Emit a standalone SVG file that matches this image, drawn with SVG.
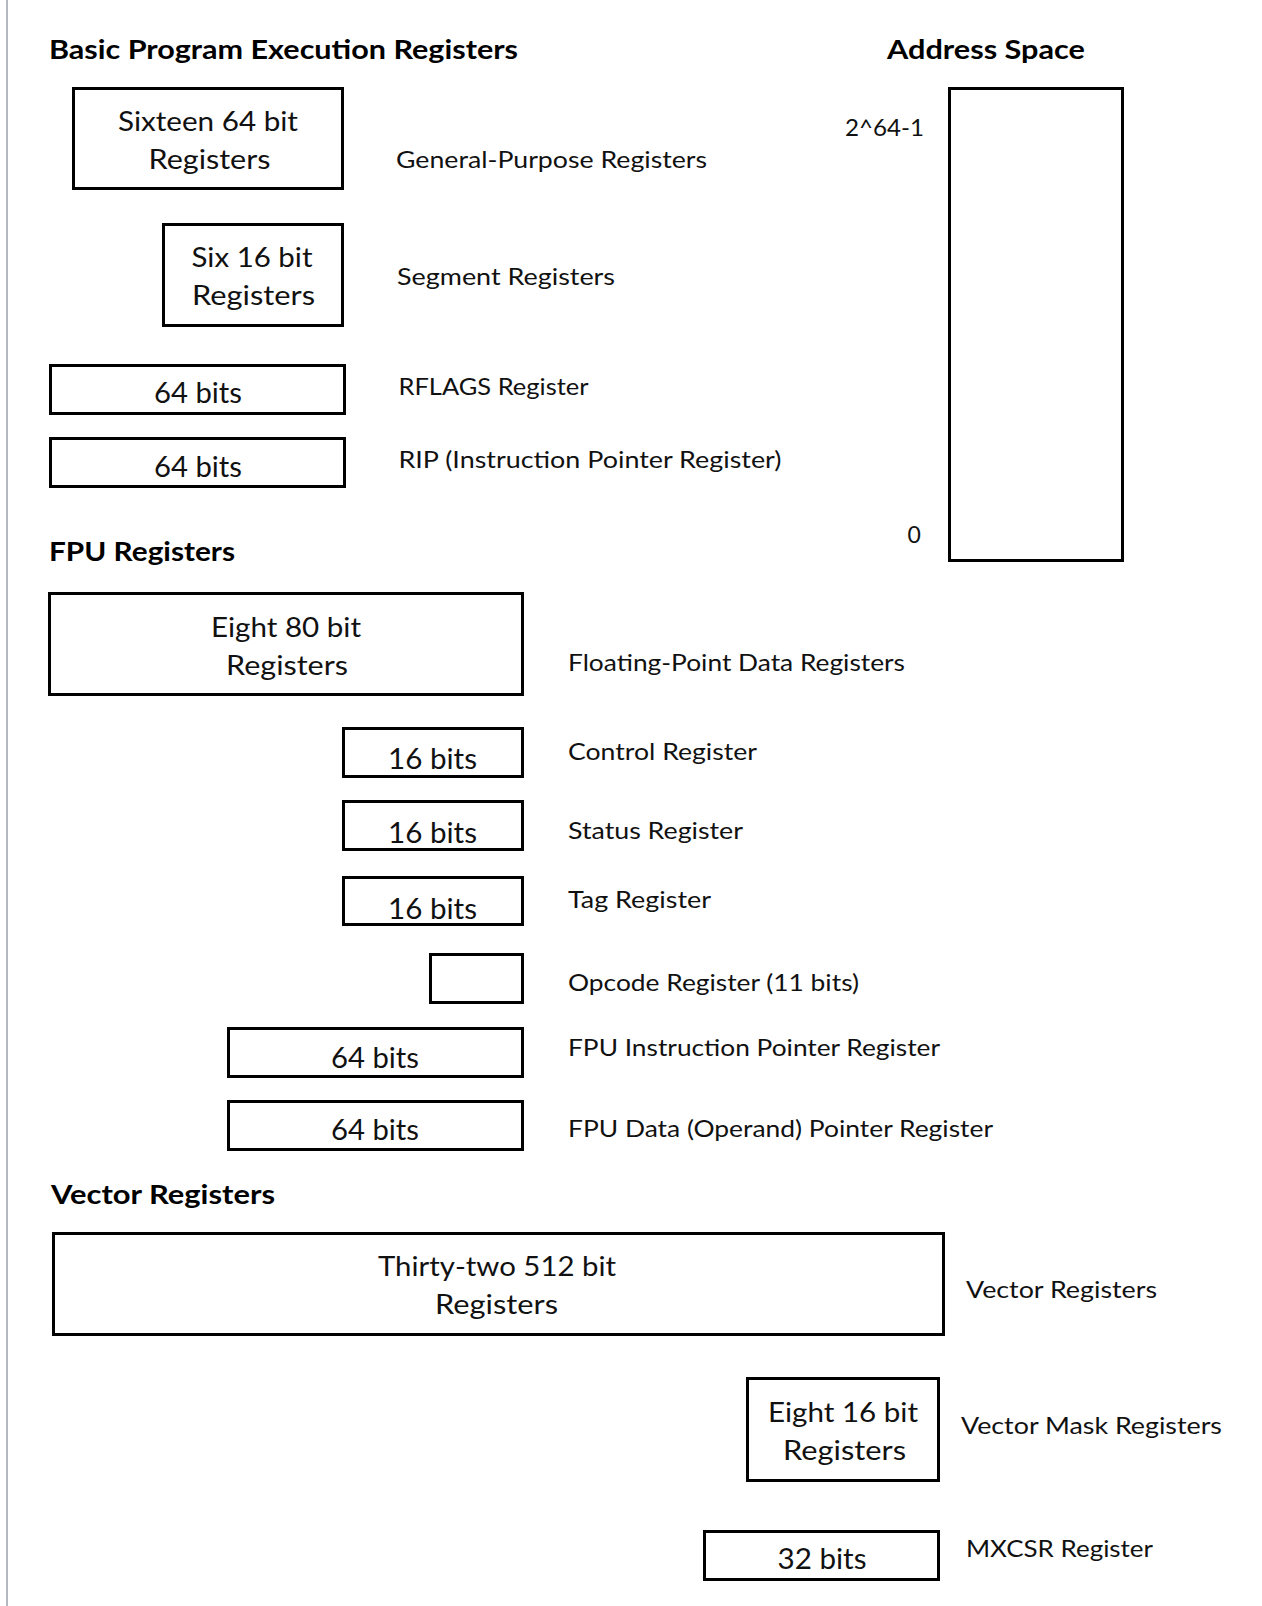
<svg xmlns="http://www.w3.org/2000/svg" width="1262" height="1606" viewBox="0 0 1262 1606">
<style>
.box{fill:#fff;stroke:#000;stroke-width:3}
.t{font-family:Lato,"Liberation Sans",sans-serif;fill:#111}
.h{font-weight:bold;font-size:27px;fill:#000}
.lbl{font-size:23px}
.in{font-size:26px}
.bits{font-size:28px}
</style>
<rect x="0" y="0" width="1262" height="1606" fill="#fff"/>
<line x1="7" y1="0" x2="7" y2="1606" stroke="#b4b8c0" stroke-width="2"/>
<g id="connectors"/>
<g id="headings">
<text class="t h" x="49" y="59" textLength="469" lengthAdjust="spacingAndGlyphs">Basic Program Execution Registers</text>
<text class="t h" x="887" y="59" textLength="198" lengthAdjust="spacingAndGlyphs">Address Space</text>
<text class="t h" x="49" y="561" textLength="186" lengthAdjust="spacingAndGlyphs">FPU Registers</text>
<text class="t h" x="51" y="1204" textLength="224" lengthAdjust="spacingAndGlyphs">Vector Registers</text>
</g>
<g id="gpr">
<rect class="box" x="73.5" y="88.5" width="269" height="100"/>
<text class="t in" x="118" y="131" textLength="180" lengthAdjust="spacingAndGlyphs">Sixteen 64 bit</text>
<text class="t in" x="148.5" y="169" textLength="122" lengthAdjust="spacingAndGlyphs">Registers</text>
<text class="t lbl" x="396" y="168" textLength="311" lengthAdjust="spacingAndGlyphs">General-Purpose Registers</text>
</g>
<g id="segment">
<rect class="box" x="163.5" y="224.5" width="179" height="101"/>
<text class="t in" x="191.5" y="267" textLength="121" lengthAdjust="spacingAndGlyphs">Six 16 bit</text>
<text class="t in" x="192" y="305" textLength="123" lengthAdjust="spacingAndGlyphs">Registers</text>
<text class="t lbl" x="397" y="285" textLength="218" lengthAdjust="spacingAndGlyphs">Segment Registers</text>
</g>
<g id="rflags">
<rect class="box" x="50.5" y="365.5" width="294" height="48"/>
<text class="t bits" x="154" y="403" textLength="88" lengthAdjust="spacingAndGlyphs">64 bits</text>
<text class="t lbl" x="398.5" y="395" textLength="190" lengthAdjust="spacingAndGlyphs">RFLAGS Register</text>
</g>
<g id="rip">
<rect class="box" x="50.5" y="438.5" width="294" height="48"/>
<text class="t bits" x="154" y="477" textLength="88" lengthAdjust="spacingAndGlyphs">64 bits</text>
<text class="t lbl" x="398.5" y="468" textLength="383" lengthAdjust="spacingAndGlyphs">RIP (Instruction Pointer Register)</text>
</g>
<g id="address-space">
<rect class="box" x="949.5" y="88.5" width="173" height="472"/>
<text class="t lbl" x="845" y="136" textLength="79" lengthAdjust="spacingAndGlyphs">2^64-1</text>
<text class="t lbl" x="907.5" y="543">0</text>
</g>
<g id="fpu-data">
<rect class="box" x="49.5" y="593.5" width="473" height="101"/>
<text class="t in" x="211" y="637" textLength="150" lengthAdjust="spacingAndGlyphs">Eight 80 bit</text>
<text class="t in" x="226" y="675" textLength="122" lengthAdjust="spacingAndGlyphs">Registers</text>
<text class="t lbl" x="568" y="671" textLength="337" lengthAdjust="spacingAndGlyphs">Floating-Point  Data Registers</text>
</g>
<g id="fpu-control">
<rect class="box" x="343.5" y="728.5" width="179" height="48"/>
<text class="t bits" x="388" y="769" textLength="89" lengthAdjust="spacingAndGlyphs">16 bits</text>
<text class="t lbl" x="568" y="760" textLength="189" lengthAdjust="spacingAndGlyphs">Control Register</text>
</g>
<g id="fpu-status">
<rect class="box" x="343.5" y="801.5" width="179" height="48"/>
<text class="t bits" x="388" y="843" textLength="89" lengthAdjust="spacingAndGlyphs">16 bits</text>
<text class="t lbl" x="568" y="839" textLength="175" lengthAdjust="spacingAndGlyphs">Status Register</text>
</g>
<g id="fpu-tag">
<rect class="box" x="343.5" y="877.5" width="179" height="47"/>
<text class="t bits" x="388" y="919" textLength="89" lengthAdjust="spacingAndGlyphs">16 bits</text>
<text class="t lbl" x="568" y="908" textLength="143" lengthAdjust="spacingAndGlyphs">Tag Register</text>
</g>
<g id="fpu-opcode">
<rect class="box" x="430.5" y="954.5" width="92" height="48"/>
<text class="t lbl" x="568" y="991" textLength="291" lengthAdjust="spacingAndGlyphs">Opcode Register (11 bits)</text>
</g>
<g id="fpu-ip">
<rect class="box" x="228.5" y="1028.5" width="294" height="48"/>
<text class="t bits" x="331" y="1068" textLength="88" lengthAdjust="spacingAndGlyphs">64 bits</text>
<text class="t lbl" x="568" y="1056" textLength="372" lengthAdjust="spacingAndGlyphs">FPU Instruction Pointer Register</text>
</g>
<g id="fpu-dp">
<rect class="box" x="228.5" y="1101.5" width="294" height="48"/>
<text class="t bits" x="331" y="1140" textLength="88" lengthAdjust="spacingAndGlyphs">64 bits</text>
<text class="t lbl" x="568" y="1137" textLength="425" lengthAdjust="spacingAndGlyphs">FPU Data (Operand) Pointer Register</text>
</g>
<g id="vector">
<rect class="box" x="53.5" y="1233.5" width="890" height="101"/>
<text class="t in" x="378" y="1276" textLength="238" lengthAdjust="spacingAndGlyphs">Thirty-two 512 bit</text>
<text class="t in" x="435" y="1314" textLength="123" lengthAdjust="spacingAndGlyphs">Registers</text>
<text class="t lbl" x="966" y="1298" textLength="191" lengthAdjust="spacingAndGlyphs">Vector Registers</text>
</g>
<g id="vector-mask">
<rect class="box" x="747.5" y="1378.5" width="191" height="102"/>
<text class="t in" x="768" y="1422" textLength="150" lengthAdjust="spacingAndGlyphs">Eight 16 bit</text>
<text class="t in" x="783" y="1460" textLength="123" lengthAdjust="spacingAndGlyphs">Registers</text>
<text class="t lbl" x="961" y="1434" textLength="261" lengthAdjust="spacingAndGlyphs">Vector Mask Registers</text>
</g>
<g id="mxcsr">
<rect class="box" x="704.5" y="1531.5" width="234" height="48"/>
<text class="t bits" x="777.5" y="1569" textLength="89" lengthAdjust="spacingAndGlyphs">32 bits</text>
<text class="t lbl" x="966" y="1557" textLength="187" lengthAdjust="spacingAndGlyphs">MXCSR Register</text>
</g>
</svg>
